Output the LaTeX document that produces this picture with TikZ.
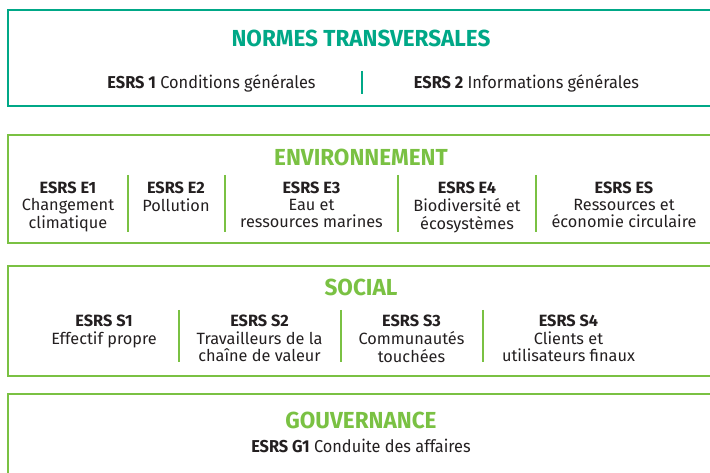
\documentclass[tikz,border=0pt]{standalone}
\usepackage{fontspec}
\setmainfont{Fira Sans}
\newfontfamily\condfont[FakeStretch=0.95]{Fira Sans}
\newfontfamily\headfont[FakeStretch=0.97]{Fira Sans}
\definecolor{teal1}{HTML}{00A887}
\definecolor{green1}{HTML}{7AC143}
\definecolor{ink}{HTML}{231F20}
\tikzset{
  frameT/.style={draw=teal1, line width=2pt},
  frameG/.style={draw=green1, line width=2pt},
  sepT/.style={draw=teal1, line width=2pt},
  sepG/.style={draw=green1, line width=2pt},
  headT/.style={anchor=base, inner sep=0pt, text=teal1, font=\headfont\bfseries\fontsize{23.2}{26}\selectfont},
  headG/.style={anchor=base, inner sep=0pt, text=green1, font=\headfont\bfseries\fontsize{23.2}{26}\selectfont},
  rowtxt/.style={anchor=base, inner sep=0pt, text=ink, font=\condfont\fontsize{17.2}{16}\selectfont},
  coltxt/.style={anchor=base, inner sep=0pt, text=ink, font=\fontsize{16.3}{16}\selectfont},
}
\newcommand{\colstack}[1]{\begin{tabular}[t]{@{}c@{}}#1\end{tabular}}
\begin{document}
\begin{tikzpicture}[x=1pt,y=-1pt]
\useasboundingbox (0,0) rectangle (710,473);
\clip (0,0) rectangle (710,473);
% frames
\path[frameT] (8,10.5) rectangle (722,106.5);
\path[frameG] (8,135.5) rectangle (722,243.5);
\path[frameG] (8,266) rectangle (722,375.5);
\path[frameG] (8,393.5) rectangle (722,490);
% top box
\node[headT] (tT) at (361,46.7) {NORMES TRANSVERSALES};
\node[rowtxt] (n1) at (211.5,88.3) {\textbf{ESRS 1} Conditions générales};
\node[rowtxt] (n2) at (526.5,88.3) {\textbf{ESRS 2} Informations générales};
\coordinate (dT1) at (362,71); \coordinate (dT2) at (362,94);
\draw[sepT] (dT1) -- (dT2);
% environment
\node[headG] (tE) at (361,166) {ENVIRONNEMENT};
\node[coltxt] (e1) at (68,194) {\colstack{\textbf{ESRS E1}\\Changement\\climatique}};
\node[coltxt] (e2) at (176,194) {\colstack{\textbf{ESRS E2}\\Pollution}};
\node[coltxt] (e3) at (311.5,194) {\colstack{\textbf{ESRS E3}\\Eau et\\ressources marines}};
\node[coltxt] (e4) at (467,194) {\colstack{\textbf{ESRS E4}\\Biodiversité et\\écosystèmes}};
\node[coltxt] (e5) at (624,194) {\colstack{\textbf{ESRS ES}\\Ressources et\\économie circulaire}};
\foreach \x [count=\i] in {127.7,225,398.3,535.7}{
  \coordinate (dEa\i) at (\x,175); \coordinate (dEb\i) at (\x,232);
  \draw[sepG] (dEa\i) -- (dEb\i);
}
% social
\node[headG] (tS) at (361,296) {SOCIAL};
\node[coltxt] (s1) at (104,326.7) {\colstack{\textbf{ESRS S1}\\Effectif propre}};
\node[coltxt] (s2) at (259.5,326.7) {\colstack{\textbf{ESRS S2}\\Travailleurs de la\\chaîne de valeur}};
\node[coltxt] (s3) at (411.5,326.7) {\colstack{\textbf{ESRS S3}\\Communautés\\touchées}};
\node[coltxt] (s4) at (568.5,326.7) {\colstack{\textbf{ESRS S4}\\Clients et\\utilisateurs finaux}};
\foreach \x [count=\i] in {179.3,340.7,483.3}{
  \coordinate (dSa\i) at (\x,310); \coordinate (dSb\i) at (\x,362);
  \draw[sepG] (dSa\i) -- (dSb\i);
}
% governance
\node[headG] (tG) at (361,428.3) {GOUVERNANCE};
\node[rowtxt] (g1) at (361,452.7) {\textbf{ESRS G1} Conduite des affaires};
\end{tikzpicture}
\end{document}
